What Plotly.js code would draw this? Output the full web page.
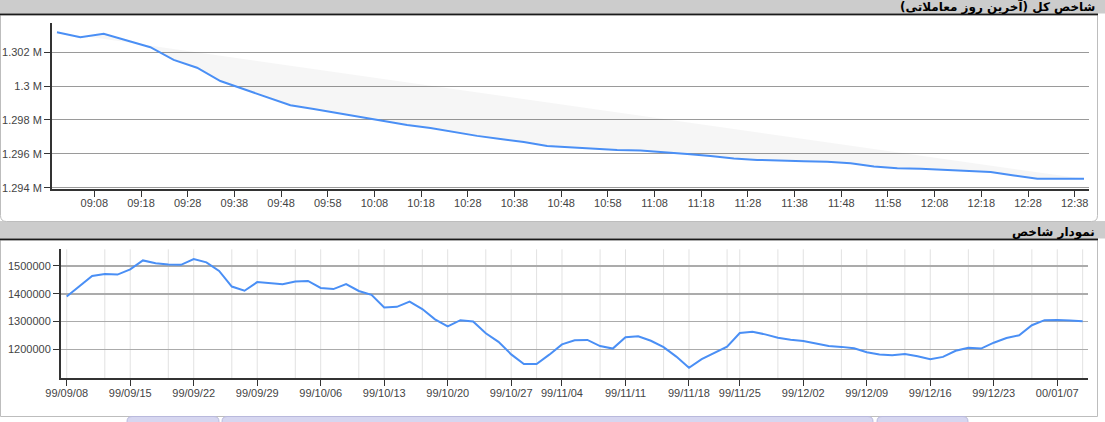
<!DOCTYPE html>
<html>
<head>
<meta charset="utf-8">
<script src="https://cdn.plot.ly/plotly-3.0.1.min.js"></script>
<style>
html,body{margin:0;padding:0;background:#ffffff;}
#chart{width:1105px;height:422px;}
</style>
</head>
<body>
<div id="chart"></div>
<script>
// ---------- DATA ----------
// Intraday index (last trading day), every 5 minutes
const intradayTimes = ['09:00','09:05','09:10','09:15','09:20','09:25','09:30','09:35','09:40','09:45',
  '09:50','09:55','10:00','10:05','10:10','10:15','10:20','10:25','10:30','10:35',
  '10:40','10:45','10:50','10:55','11:00','11:05','11:10','11:15','11:20','11:25',
  '11:30','11:35','11:40','11:45','11:50','11:55','12:00','12:05','12:10','12:15',
  '12:20','12:25','12:30','12:35','12:40'];
const intradayValues = [1303180,1302890,1303100,1302710,1302300,1301550,1301090,1300300,1299810,1299340,
  1298870,1298650,1298410,1298180,1297940,1297700,1297530,1297290,1297060,1296880,
  1296700,1296460,1296380,1296290,1296230,1296200,1296110,1295990,1295870,1295730,
  1295640,1295580,1295560,1295530,1295440,1295250,1295150,1295110,1295050,1294990,
  1294930,1294720,1294520,1294520,1294520];
const intradayTickLabels = ['09:08','09:18','09:28','09:38','09:48','09:58','10:08','10:18','10:28','10:38',
  '10:48','10:58','11:08','11:18','11:28','11:38','11:48','11:58','12:08','12:18','12:28','12:38'];
const intradayYTicks = [1294000,1296000,1298000,1300000,1302000];
const intradayYTickText = ['1.294 M','1.296 M','1.298 M','1.3 M','1.302 M'];

// Daily index, one value per trading day
const dailyValues = [1390000,1427000,1464000,1471000,1469000,1488000,1520000,1510000,1505000,1504000,
  1525000,1513000,1482000,1426000,1411000,1442000,1438000,1434000,1444000,1446000,
  1421000,1417000,1435000,1410000,1396000,1351000,1353000,1372000,1345000,1308000,
  1283000,1305000,1300000,1258000,1227000,1182000,1147000,1147000,1181000,1218000,
  1233000,1234000,1212000,1203000,1244000,1247000,1231000,1208000,1174000,1134000,
  1165000,1188000,1210000,1259000,1263000,1254000,1242000,1235000,1230000,1221000,
  1212000,1209000,1204000,1190000,1182000,1179000,1183000,1175000,1165000,1173000,
  1195000,1206000,1203000,1224000,1241000,1251000,1287000,1305000,1306000,1304000,
  1301000];
const dailyTickDays = [0,5,10,15,20,25,30,35,39,44,49,53,58,63,68,73,78];
const dailyTickLabels = ['99/09/08','99/09/15','99/09/22','99/09/29','99/10/06','99/10/13','99/10/20','99/10/27',
  '99/11/04','99/11/11','99/11/18','99/11/25','99/12/02','99/12/09','99/12/16','99/12/23','00/01/07'];
const dailyGridDays = [3,8,13,18,23,28,33,37,42,47,52,56,61,66,71,76,80];
const dailyYTicks = [1200000,1300000,1400000,1500000];
const dailyYTickText = ['1200000','1300000','1400000','1500000'];

const titleTop = '\u200Fشاخص کل (آخرین روز معاملاتی)\u200F';
const titleBottom = '\u200Fنمودار شاخص\u200F';

// ---------- HELPERS ----------
const W = 1105, H = 422;
const px = p => p / W;
const py = p => 1 - p / H;
const day = '2021-01-01 ';
const toDate = t => day + t;
function rect(x0, y0, x1, y1, fill, line, lw) {
  return {type:'rect', xref:'paper', yref:'paper', x0:px(x0), x1:px(x1), y0:py(y1), y1:py(y0),
    fillcolor:fill, line:{color:line || 'rgba(0,0,0,0)', width:lw || 0}, layer:'below'};
}
function roundedPanel(x0, y0, x1, y1, r, fill, line) {
  const P = (x, y) => px(x) + ',' + py(y);
  const d = 'M ' + P(x0, y0) + ' L ' + P(x1, y0) + ' L ' + P(x1, y1 - r) +
    ' Q ' + P(x1, y1) + ' ' + P(x1 - r, y1) + ' L ' + P(x0 + r, y1) +
    ' Q ' + P(x0, y1) + ' ' + P(x0, y1 - r) + ' Z';
  return {type:'path', xref:'paper', yref:'paper', path:d, fillcolor:fill,
    line:{color:line, width:1}, layer:'below'};
}
function roundedTop(x0, y0, x1, y1, r, fill, line) {
  const P = (x, y) => px(x) + ',' + py(y);
  const d = 'M ' + P(x0, y1) + ' L ' + P(x0, y0 + r) + ' Q ' + P(x0, y0) + ' ' + P(x0 + r, y0) +
    ' L ' + P(x1 - r, y0) + ' Q ' + P(x1, y0) + ' ' + P(x1, y0 + r) + ' L ' + P(x1, y1) + ' Z';
  return {type:'path', xref:'paper', yref:'paper', path:d, fillcolor:fill,
    line:{color:line, width:1}, layer:'below'};
}
function tab(x0, x1) {
  return roundedTop(x0, 416.5, x1, 425, 5, '#d6d6f0', '#b9b9dc');
}
function vGrid(d) {
  return {type:'line', xref:'x2', yref:'paper', x0:d, x1:d, y0:py(378.3), y1:py(249.3),
    line:{color:'#e2e2e2', width:1}, layer:'between'};
}

const blue = '#4a8ff5';

const traces = [
  {
    type:'scatter', mode:'lines', xaxis:'x', yaxis:'y',
    x: intradayTimes.map(toDate), y: intradayValues,
    line:{color:blue, width:2}, fill:'toself', fillcolor:'rgba(0,0,0,0.035)',
    hoverinfo:'skip'
  },
  {
    type:'scatter', mode:'lines', xaxis:'x2', yaxis:'y2',
    x: dailyValues.map((v, i) => i), y: dailyValues,
    line:{color:blue, width:2}, hoverinfo:'skip'
  }
];

const axisCommon = {
  ticks:'outside', ticklen:6, tickwidth:1, tickcolor:'#333',
  showline:true, linecolor:'#333', linewidth:2, zeroline:false,
  tickfont:{family:'Liberation Sans, Arial, sans-serif', size:11, color:'#444'}
};

const shapes = [
  rect(0, 0, W, 13.5, '#cccccc'),
  rect(0, 221, W, 238.5, '#cccccc'),
  roundedPanel(0.5, 15, 1097.5, 221.5, 6, '#ffffff', '#bdbdbd'),
  rect(0.5, 240, 1097.5, 416.5, '#ffffff', '#bdbdbd', 1),
  rect(0, 13.5, 1098, 15.3, '#1a1a1a'),
  rect(0, 238.5, 1098, 240.2, '#1a1a1a'),
  tab(127, 219),
  tab(222, 873),
  tab(877, 968)
].concat(dailyGridDays.concat(dailyTickDays).map(vGrid));

const layout = {
  width:W, height:H, margin:{l:0, r:0, t:0, b:0},
  paper_bgcolor:'#ffffff', plot_bgcolor:'rgba(0,0,0,0)', showlegend:false,
  font:{family:'Liberation Sans, Arial, sans-serif', size:11, color:'#444'},
  xaxis: Object.assign({}, axisCommon, {
    domain:[px(52), px(1089)], anchor:'y', type:'date',
    range:[toDate('08:58:56'), toDate('12:41:04')],
    tickmode:'array', tickvals: intradayTickLabels.map(toDate), ticktext: intradayTickLabels,
    showgrid:false, ticklabelstandoff:-3
  }),
  yaxis: Object.assign({}, axisCommon, {
    domain:[py(189), py(22.7)], anchor:'x',
    range:[1293920, 1303750],
    tickmode:'array', tickvals: intradayYTicks, ticktext: intradayYTickText,
    showgrid:true, gridcolor:'#9a9a9a', gridwidth:1
  }),
  xaxis2: Object.assign({}, axisCommon, {
    domain:[px(61), px(1088)], anchor:'y2',
    range:[-0.45, 80.42],
    tickmode:'array', tickvals: dailyTickDays, ticktext: dailyTickLabels,
    showgrid:false, ticklabelstandoff:-3
  }),
  yaxis2: Object.assign({}, axisCommon, {
    domain:[py(378.3), py(249.3)], anchor:'x2',
    range:[1096000, 1560000],
    tickmode:'array', tickvals: dailyYTicks, ticktext: dailyYTickText,
    showgrid:true, gridcolor:'#ababab', gridwidth:1.5
  }),
  shapes: shapes,
  annotations: [
    {xref:'paper', yref:'paper', x:px(1097), y:py(7), xanchor:'right', yanchor:'middle',
      text:'<b>' + titleTop + '</b>', showarrow:false,
      font:{family:'DejaVu Sans, sans-serif', size:12, color:'#000'}},
    {xref:'paper', yref:'paper', x:px(1097), y:py(232), xanchor:'right', yanchor:'middle',
      text:'<b>' + titleBottom + '</b>', showarrow:false,
      font:{family:'DejaVu Sans, sans-serif', size:12, color:'#000'}}
  ]
};

Plotly.newPlot('chart', traces, layout, {staticPlot:true, displayModeBar:false});
</script>
</body>
</html>
